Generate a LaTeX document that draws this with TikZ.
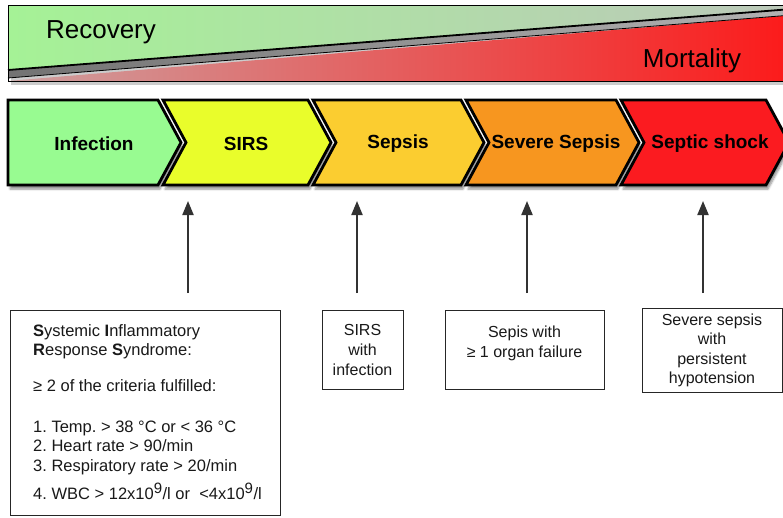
\documentclass[tikz,border=0pt]{standalone}
\usepackage{fontspec}
\setmainfont{Liberation Sans}
\frenchspacing
\usetikzlibrary{shadows.blur,arrows.meta}
\definecolor{cinf}{RGB}{152,251,145}
\definecolor{csirs}{RGB}{233,253,43}
\definecolor{csep}{RGB}{251,205,48}
\definecolor{csev}{RGB}{247,150,31}
\definecolor{cshock}{RGB}{251,27,32}
\definecolor{gL}{RGB}{165,242,150}
\definecolor{gR}{RGB}{188,200,186}
\definecolor{rL}{RGB}{205,160,160}
\definecolor{rR}{RGB}{252,26,26}
\definecolor{arrc}{RGB}{50,50,50}
\definecolor{txt}{RGB}{25,25,25}
\tikzset{
  chev/.style={line width=2.8, line join=miter,
    blur shadow={shadow xshift=2pt, shadow yshift=-4pt, shadow blur steps=6, shadow opacity=45}},
  chevline/.style={draw=black, line width=2.8, line join=miter},
  chevtext/.style={font=\fontsize{19}{22}\selectfont\bfseries, text=black, inner sep=0},
  infobox/.style={draw=black!85, line width=1.1, fill=white, inner sep=0},
  infotext/.style={font=\fontsize{16}{20}\selectfont, text=txt, align=center, inner sep=0},
  uparrow/.style={draw=arrc, line width=2, -{Triangle[length=14,width=11]}},
  bartext/.style={font=\fontsize{26}{30}\selectfont, text=black, inner sep=0}
}
\begin{document}
\begin{tikzpicture}[x=1pt,y=-1pt]
\useasboundingbox (0,0) rectangle (783,517);
% ---- top bar ----
\fill[black!20] (11,9) rectangle (792,85);
\shade[left color=rL, right color=rR] (8,81) -- (792,15) -- (792,81) -- cycle;
\shade[left color=black!55, right color=black!30] (8,70) -- (792,9) -- (792,15) -- (8,78) -- cycle;
\shade[left color=gL, right color=gR] (8,5) -- (792,5) -- (792,9) -- (8,70) -- cycle;
\draw[line width=1.8] (8,70) -- (792,9);
\draw[line width=0.8] (8,78) -- (792,15);
\draw[line width=1] (8,5) rectangle (792,81);
\node[bartext] (recovery) at (101,32) {Recovery};
\node[bartext] (mortality) at (692,61) {Mortality};
% ---- chevrons ----
\fill[chev, fill=cinf] (8,100) -- (158,100) -- (181,142.5) -- (158,185) -- (8,185) -- cycle;
\fill[chev, fill=csirs] (163,100) -- (308,100) -- (331,142.5) -- (308,185) -- (163,185) -- (186,142.5) -- cycle;
\fill[chev, fill=csep] (313,100) -- (461,100) -- (484,142.5) -- (461,185) -- (313,185) -- (336,142.5) -- cycle;
\fill[chev, fill=csev] (466,100) -- (616,100) -- (639,142.5) -- (616,185) -- (466,185) -- (489,142.5) -- cycle;
\fill[chev, fill=cshock] (621,100) -- (766,100) -- (789,142.5) -- (766,185) -- (621,185) -- (644,142.5) -- cycle;
\draw[chevline] (8,100) -- (158,100) -- (181,142.5) -- (158,185) -- (8,185) -- cycle;
\draw[chevline] (163,100) -- (308,100) -- (331,142.5) -- (308,185) -- (163,185) -- (186,142.5) -- cycle;
\draw[chevline] (313,100) -- (461,100) -- (484,142.5) -- (461,185) -- (313,185) -- (336,142.5) -- cycle;
\draw[chevline] (466,100) -- (616,100) -- (639,142.5) -- (616,185) -- (466,185) -- (489,142.5) -- cycle;
\draw[chevline] (621,100) -- (766,100) -- (789,142.5) -- (766,185) -- (621,185) -- (644,142.5) -- cycle;
\node[chevtext] (infection) at (94,144) {Infection};
\node[chevtext] (sirs) at (246,144) {SIRS};
\node[chevtext] (sepsis) at (398,144) {Sepsis};
\node[chevtext] (severe) at (556,144) {Severe Sepsis};
\node[chevtext] (shock) at (710,144) {Septic shock};
% ---- boxes ----
\node[infobox, minimum width=270, minimum height=205, anchor=north west] (box1) at (10,310) {};
\node[font=\fontsize{16.5}{19.2}\selectfont, text=txt, align=left, anchor=north west, inner sep=0] (box1text) at (33,324)
 {\textbf{S}ystemic \textbf{I}nflammatory\\
  \textbf{R}esponse \textbf{S}yndrome:\\[17pt]
  ≥ 2 of the criteria fulfilled:\\[22pt]
  1. Temp. > 38 °C or < 36 °C\\
  2. Heart rate > 90/min\\
  3. Respiratory rate > 20/min\\[7pt]
  4. WBC > 12x10\textsuperscript{\fontsize{15}{15}\selectfont 9}/l or\ \ <4x10\textsuperscript{\fontsize{15}{15}\selectfont 9}/l};
\node[infobox, minimum width=81, minimum height=79, anchor=north west] (box2) at (322,310) {};
\node[infotext] (box2text) at (362.5,350) {SIRS\\with\\infection};
\node[infobox, minimum width=159, minimum height=79, anchor=north west] (box3) at (445,310) {};
\node[infotext] (box3text) at (524.5,343) {Sepis with\\≥ 1 organ failure};
\node[infobox, minimum width=140, minimum height=84, anchor=north west] (box4) at (642,308) {};
\node[infotext, font=\fontsize{16}{19.5}\selectfont] (box4text) at (712,350.5) {Severe sepsis\\with\\persistent\\hypotension};
% ---- arrows ----
\coordinate (a1s) at (188,293); \coordinate (a1e) at (188,201);
\coordinate (a2s) at (357,293); \coordinate (a2e) at (357,201);
\coordinate (a3s) at (527,293); \coordinate (a3e) at (527,201);
\coordinate (a4s) at (703,293); \coordinate (a4e) at (703,201);
\draw[uparrow] (a1s) -- (a1e);
\draw[uparrow] (a2s) -- (a2e);
\draw[uparrow] (a3s) -- (a3e);
\draw[uparrow] (a4s) -- (a4e);
\end{tikzpicture}
\end{document}
